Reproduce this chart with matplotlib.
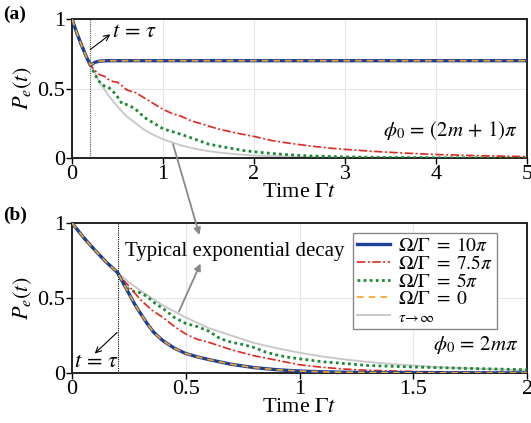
import matplotlib
matplotlib.use("Agg")
import matplotlib.pyplot as plt

plt.rcParams['font.family'] = ['Liberation Serif', 'DejaVu Serif']
plt.rcParams['mathtext.fontset'] = 'stix'

# ---------------- Panel (a) data: phi0 = (2m+1)pi ----------------
a_t_gray = [0, 0.05, 0.1, 0.15, 0.2, 0.3, 0.4, 0.5, 0.6, 0.7, 0.8, 0.9, 1.0, 1.2, 1.4, 1.6, 1.8, 2.0, 2.5, 3.0, 4.0, 5.0]
a_gray = [1.0, 0.905, 0.82, 0.74, 0.67, 0.55, 0.45, 0.37, 0.30, 0.25, 0.20, 0.165, 0.135, 0.09, 0.06, 0.04, 0.027, 0.018, 0.007, 0.0025, 0.0003, 0.0]

a_t_blue = [0, 0.05, 0.1, 0.15, 0.2, 0.22, 0.25, 0.3, 0.4, 5.0]
a_blue = [1.0, 0.905, 0.82, 0.74, 0.67, 0.675, 0.688, 0.697, 0.70, 0.70]
a_orange = [1.0, 0.905, 0.82, 0.74, 0.67, 0.675, 0.688, 0.697, 0.70, 0.70]

a_t_red = [0, 0.05, 0.1, 0.15, 0.2, 0.25, 0.3, 0.35, 0.4, 0.45, 0.5, 0.55, 0.6, 0.7, 0.8, 0.9, 1.0, 1.1, 1.2, 1.3, 1.4,
           1.5, 1.6, 1.8, 2.0, 2.2, 2.4, 2.6, 2.8, 3.0, 3.3, 3.6, 4.0, 4.5, 5.0]
a_red = [1.0, 0.905, 0.82, 0.74, 0.67, 0.63, 0.60, 0.59, 0.565, 0.55, 0.545, 0.52, 0.49, 0.47, 0.43, 0.39, 0.35, 0.32, 0.30, 0.27, 0.25,
         0.23, 0.21, 0.18, 0.155, 0.125, 0.105, 0.088, 0.073, 0.062, 0.048, 0.037, 0.025, 0.016, 0.010]

a_t_green = [0, 0.05, 0.1, 0.15, 0.2, 0.23, 0.27, 0.3, 0.35, 0.4, 0.45, 0.5, 0.55, 0.6, 0.65, 0.7, 0.8, 0.9, 1.0, 1.1, 1.2, 1.33,
             1.5, 1.7, 1.9, 2.1, 2.3, 2.6, 3.0, 3.5, 4.0, 5.0]
a_green = [1.0, 0.905, 0.82, 0.74, 0.67, 0.63, 0.58, 0.55, 0.52, 0.51, 0.48, 0.44, 0.39, 0.385, 0.37, 0.35, 0.29, 0.25, 0.21, 0.19, 0.17, 0.14,
           0.10, 0.075, 0.052, 0.038, 0.027, 0.015, 0.008, 0.004, 0.002, 0.0]

# ---------------- Panel (b) data: phi0 = 2m pi ----------------
b_t_gray = [0, 0.05, 0.1, 0.15, 0.2, 0.25, 0.3, 0.35, 0.4, 0.45, 0.5, 0.6, 0.7, 0.8, 0.9, 1.0, 1.1, 1.2, 1.3, 1.4, 1.5, 1.6, 1.8, 2.0]
b_gray = [1.0, 0.905, 0.82, 0.74, 0.67, 0.605, 0.55, 0.50, 0.45, 0.41, 0.37, 0.30, 0.25, 0.20, 0.165, 0.135, 0.11, 0.09, 0.074, 0.06, 0.05, 0.04, 0.027, 0.018]

b_t_blue = [0, 0.05, 0.1, 0.15, 0.2, 0.225, 0.25, 0.275, 0.3, 0.33, 0.36, 0.4, 0.45, 0.5, 0.55, 0.6, 0.7, 0.8, 0.9, 1.0, 1.1, 1.2, 1.4, 1.6, 2.0]
b_blue = [1.0, 0.905, 0.82, 0.74, 0.67, 0.60, 0.53, 0.46, 0.40, 0.33, 0.27, 0.215, 0.165, 0.13, 0.108, 0.09, 0.058, 0.036, 0.022, 0.013, 0.008, 0.005, 0.002, 0.001, 0.0]
b_orange = [1.0, 0.905, 0.82, 0.74, 0.67, 0.60, 0.53, 0.46, 0.40, 0.33, 0.27, 0.215, 0.165, 0.13, 0.108, 0.09, 0.058, 0.036, 0.022, 0.013, 0.008, 0.005, 0.002, 0.001, 0.0]

b_t_red = [0, 0.05, 0.1, 0.15, 0.2, 0.225, 0.25, 0.3, 0.35, 0.4, 0.45, 0.5, 0.55, 0.6, 0.65, 0.7, 0.8, 0.9, 1.0, 1.1, 1.2, 1.3, 1.5, 1.7, 2.0]
b_red = [1.0, 0.905, 0.82, 0.74, 0.67, 0.62, 0.58, 0.49, 0.42, 0.37, 0.31, 0.26, 0.225, 0.205, 0.18, 0.155, 0.115, 0.085, 0.055, 0.038, 0.026, 0.018, 0.010, 0.006, 0.004]

b_t_green = [0, 0.05, 0.1, 0.15, 0.2, 0.22, 0.25, 0.28, 0.3, 0.33, 0.36, 0.4, 0.45, 0.5, 0.55, 0.6, 0.65, 0.7, 0.75, 0.8, 0.85, 0.9, 0.95,
             1.0, 1.1, 1.2, 1.3, 1.5, 1.7, 2.0]
b_green = [1.0, 0.905, 0.82, 0.74, 0.67, 0.61, 0.555, 0.54, 0.535, 0.51, 0.47, 0.43, 0.37, 0.33, 0.31, 0.28, 0.23, 0.205, 0.19, 0.17, 0.14, 0.12, 0.105,
           0.095, 0.075, 0.063, 0.05, 0.04, 0.032, 0.022]

tau = 0.2
a_xticks = [0, 1, 2, 3, 4, 5]
b_xticks = [0, 0.5, 1, 1.5, 2]
b_xticklabels = ['0', '0.5', '1', '1.5', '2']
yticks = [0, 0.5, 1]
yticklabels = ['0', '0.5', '1']
labels = [r'$\Omega/\Gamma\;=\;10\pi$', r'$\Omega/\Gamma\;=\;7.5\pi$', r'$\Omega/\Gamma\;=\;5\pi$',
          r'$\Omega/\Gamma\;=\;0$', r'$\tau\!\rightarrow\!\infty$']

C_BLUE = '#1d3f95'
C_ORANGE = '#f0a62a'
C_RED = '#e0261d'
C_GREEN = '#1b8a35'
C_GRAY = '#c9c9c9'

fig = plt.figure(figsize=(5.31, 4.23), dpi=100)
ax_a = fig.add_axes([0.1356, 0.6265, 0.857, 0.3285])
ax_b = fig.add_axes([0.1356, 0.1182, 0.857, 0.3546])

FS = 16


def style(ax, xlim, xticks, xticklabels):
    ax.set_xlim(*xlim)
    ax.set_ylim(0, 1)
    ax.set_xticks(xticks)
    ax.set_xticklabels(xticklabels, fontsize=FS)
    ax.set_yticks(yticks)
    ax.set_yticklabels(yticklabels, fontsize=FS)
    ax.grid(True, color='#e6e6e6', lw=0.8)
    ax.set_axisbelow(True)
    for s in ax.spines.values():
        s.set_linewidth(1.4)
        s.set_color('#222222')
    ax.tick_params(direction='out', length=4, width=1, pad=1)
    ax.set_xlabel(r'Time $\Gamma t$', fontsize=FS, labelpad=-1)
    ax.set_ylabel(r'$P_e(t)$', fontsize=FS)
    ax.yaxis.set_label_coords(-0.083, 0.5)


# Panel (a)
ax = ax_a
ax.plot(a_t_gray, a_gray, color=C_GRAY, lw=1.4, zorder=2)
ax.plot(a_t_green, a_green, color=C_GREEN, lw=2.0, ls=(0, (1, 1.2)), zorder=3)
ax.plot(a_t_red, a_red, color=C_RED, lw=1.2, ls=(0, (5, 1.5, 1.2, 1.5)), zorder=4)
ax.plot(a_t_blue, a_blue, color=C_BLUE, lw=2.4, zorder=5)
ax.plot(a_t_blue, a_orange, color=C_ORANGE, lw=1.2, ls=(0, (4, 3)), zorder=6)
ax.axvline(tau, color='#555555', lw=0.8, ls=(0, (1, 1)), zorder=1)
style(ax, (0, 5), a_xticks, [str(v) for v in a_xticks])
ax.annotate('', xy=(0.42, 0.89), xytext=(0.2, 0.78),
            arrowprops=dict(arrowstyle='->', color='black', lw=0.8, shrinkA=0, shrinkB=0))
ax.text(0.44, 0.9, r'$t\,=\,\tau$', fontsize=FS, va='center', ha='left')
ax.text(4.9, 0.2, r'$\phi_0\,=\,(2m\,+\,1)\pi$', fontsize=15, ha='right', va='center')

# Panel (b)
ax = ax_b
l5, = ax.plot(b_t_gray, b_gray, color=C_GRAY, lw=1.4, zorder=2)
l3, = ax.plot(b_t_green, b_green, color=C_GREEN, lw=2.0, ls=(0, (1, 1.2)), zorder=3)
l2, = ax.plot(b_t_red, b_red, color=C_RED, lw=1.2, ls=(0, (5, 1.5, 1.2, 1.5)), zorder=4)
l1, = ax.plot(b_t_blue, b_blue, color=C_BLUE, lw=2.4, zorder=5)
l4, = ax.plot(b_t_blue, b_orange, color=C_ORANGE, lw=1.2, ls=(0, (4, 3)), zorder=6)
ax.axvline(tau, color='black', lw=0.8, ls=(0, (1, 1)), zorder=1)
style(ax, (0, 2), b_xticks, b_xticklabels)
ax.annotate('', xy=(0.1, 0.13), xytext=(0.198, 0.27),
            arrowprops=dict(arrowstyle='->', color='black', lw=0.8, shrinkA=0, shrinkB=0))
ax.text(0.01, 0.07, r'$t\,=\,\tau$', fontsize=FS, va='center', ha='left')
ax.text(1.96, 0.19, r'$\phi_0\,=\,2m\pi$', fontsize=15, ha='right', va='center')
ax.text(0.235, 0.81, 'Typical exponential decay', fontsize=15, va='center', ha='left')

leg = ax.legend([l1, l2, l3, l4, l5], labels, loc='upper right', bbox_to_anchor=(0.934, 0.935),
                fontsize=14, frameon=True, fancybox=False, edgecolor='#888888', framealpha=1,
                handlelength=1.7, handletextpad=0.4, labelspacing=0.0, borderpad=0.2, borderaxespad=0)
leg.get_frame().set_linewidth(1.0)
leg.get_texts()[4].set_fontsize(11)

# Gray arrows to "Typical exponential decay"
ax_b.annotate('', xy=(0.56, 0.92), xycoords='data', xytext=(1.11, 0.10), textcoords=ax_a.transData,
              arrowprops=dict(arrowstyle='-|>', color='#888888', lw=1.3, mutation_scale=10,
                              shrinkA=0, shrinkB=0), annotation_clip=False)
ax_b.annotate('', xy=(0.565, 0.73), xytext=(0.47, 0.41),
              arrowprops=dict(arrowstyle='-|>', color='#888888', lw=1.3, mutation_scale=10,
                              shrinkA=0, shrinkB=0))

fig.text(0.005, 0.965, '(a)', fontsize=14, fontweight='bold', va='center')
fig.text(0.005, 0.49, '(b)', fontsize=14, fontweight='bold', va='center')

fig.savefig('out.png', dpi=100)
